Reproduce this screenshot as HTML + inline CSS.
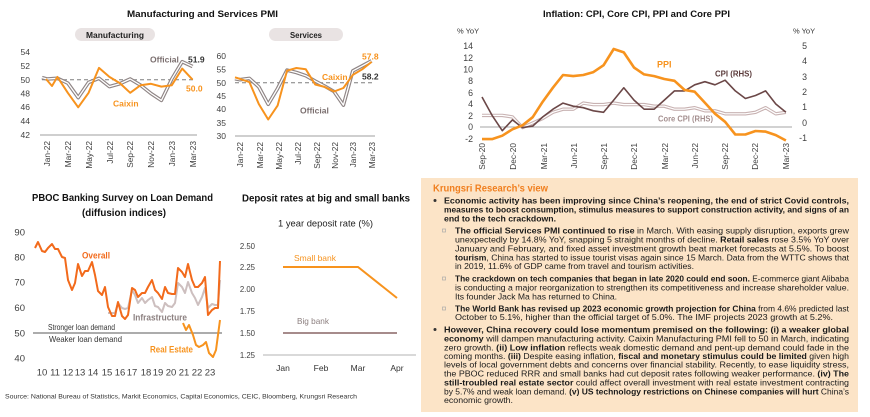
<!DOCTYPE html>
<html><head><meta charset="utf-8"><style>
html,body{margin:0;padding:0;background:#fff;}
svg{display:block;font-family:"Liberation Sans",Arial,sans-serif;}
</style></head><body>
<svg width="870" height="417" viewBox="0 0 870 417" xmlns="http://www.w3.org/2000/svg">
<rect width="870" height="417" fill="#fff"/>

<!-- ============ PMI ============ -->
<text x="127" y="17" font-size="9.5" font-weight="bold" fill="#111" textLength="151" lengthAdjust="spacingAndGlyphs">Manufacturing and Services PMI</text>

<!-- Manufacturing -->
<rect x="75" y="28" width="80" height="13" rx="6.5" fill="#e9e3e3"/>
<text x="86" y="38" font-size="8.5" font-weight="bold" fill="#222" textLength="58" lengthAdjust="spacingAndGlyphs">Manufacturing</text>
<g font-size="8.5" fill="#404040" text-anchor="end">
<text x="30" y="55">54</text><text x="30" y="69">52</text><text x="30" y="83">50</text><text x="30" y="96.5">48</text><text x="30" y="110">46</text><text x="30" y="124">44</text><text x="30" y="138">42</text>
</g>
<line x1="40" y1="135" x2="197" y2="135" stroke="#bfbfbf" stroke-width="1.5"/>
<line x1="42" y1="79.7" x2="193" y2="79.7" stroke="#7f7f7f" stroke-width="1" stroke-dasharray="4,3"/>
<polyline fill="none" stroke="#8f8585" stroke-width="3.6" stroke-linejoin="round" points="42,77.6 47,79 57.4,78.3 67.8,83.1 78.2,97.6 88.6,82.4 99,78.3 109.4,86.6 119.8,83.8 130.2,79 140.6,85.2 151,93.5 161.4,100.4 171.8,79 182.2,61.7 192.6,66.5"/>
<polyline fill="none" stroke="#fff" stroke-width="1.3" stroke-linejoin="round" points="42,77.6 47,79 57.4,78.3 67.8,83.1 78.2,97.6 88.6,82.4 99,78.3 109.4,86.6 119.8,83.8 130.2,79 140.6,85.2 151,93.5 161.4,100.4 171.8,79 182.2,61.7 192.6,66.5"/>
<polyline fill="none" stroke="#f7931e" stroke-width="2" stroke-linejoin="round" points="46,79 52,86 57.4,76.9 67.8,92.8 78.2,107.3 88.6,92.8 99,67.9 109.4,76.9 119.8,83.1 130.2,92.8 140.6,85.2 151,83.8 161.4,86.6 171.8,85.2 182.2,68.6 192.6,79.7"/>
<text x="150" y="62.5" font-size="8.5" font-weight="bold" fill="#7b6f6f">Official</text>
<text x="188" y="62.5" font-size="8.5" font-weight="bold" fill="#333">51.9</text>
<text x="113" y="106.5" font-size="8.5" font-weight="bold" fill="#f7931e">Caixin</text>
<text x="186" y="91.5" font-size="8.5" font-weight="bold" fill="#f7931e">50.0</text>
<g font-size="8.3" fill="#404040" text-anchor="end">
<text transform="translate(50,141) rotate(-90)">Jan-22</text>
<text transform="translate(71,141) rotate(-90)">Mar-22</text>
<text transform="translate(92,141) rotate(-90)">May-22</text>
<text transform="translate(113,141) rotate(-90)">Jul-22</text>
<text transform="translate(133,141) rotate(-90)">Sep-22</text>
<text transform="translate(154,141) rotate(-90)">Nov-22</text>
<text transform="translate(175,141) rotate(-90)">Jan-23</text>
<text transform="translate(196,141) rotate(-90)">Mar-23</text>
</g>

<!-- Services -->
<rect x="269" y="28" width="74" height="13" rx="6.5" fill="#e9e3e3"/>
<text x="290" y="38" font-size="8.5" font-weight="bold" fill="#222" textLength="32" lengthAdjust="spacingAndGlyphs">Services</text>
<g font-size="8.5" fill="#404040" text-anchor="end">
<text x="226" y="59">60</text><text x="226" y="72.5">55</text><text x="226" y="86">50</text><text x="226" y="99">45</text><text x="226" y="112">40</text><text x="226" y="126">35</text><text x="226" y="139">30</text>
</g>
<line x1="235" y1="136" x2="375" y2="136" stroke="#bfbfbf" stroke-width="1.5"/>
<line x1="235" y1="82.7" x2="372" y2="82.7" stroke="#7f7f7f" stroke-width="1" stroke-dasharray="4,3"/>
<polyline fill="none" stroke="#8f8585" stroke-width="3.6" stroke-linejoin="round" points="235,78.7 240,79.7 249.4,78.4 258.8,86.9 268.2,104.3 277.6,88.5 287,70.1 296.4,72.5 305.8,75.7 315.2,81.1 324.6,86.1 334,91.5 343.4,105.1 352.8,70.9 362.2,65.9 371.6,60.8"/>
<polyline fill="none" stroke="#fff" stroke-width="1.3" stroke-linejoin="round" points="235,78.7 240,79.7 249.4,78.4 258.8,86.9 268.2,104.3 277.6,88.5 287,70.1 296.4,72.5 305.8,75.7 315.2,81.1 324.6,86.1 334,91.5 343.4,105.1 352.8,70.9 362.2,65.9 371.6,60.8"/>
<polyline fill="none" stroke="#f7931e" stroke-width="2" stroke-linejoin="round" points="235,77.3 240,78.9 249.4,82.1 258.8,104 268.2,119.5 277.6,105.6 287,70.7 296.4,68 305.8,69.3 315.2,84.5 324.6,86.9 334,91.5 343.4,88 352.8,74.9 362.2,69.3 371.6,61.9"/>
<text x="362" y="59.5" font-size="8.5" font-weight="bold" fill="#f7931e">57.8</text>
<text x="322" y="80" font-size="8.5" font-weight="bold" fill="#f7931e">Caixin</text>
<text x="362" y="79.5" font-size="8.5" font-weight="bold" fill="#333">58.2</text>
<text x="300" y="113.5" font-size="8.5" font-weight="bold" fill="#7b6f6f">Official</text>
<g font-size="8.3" fill="#404040" text-anchor="end">
<text transform="translate(243,142) rotate(-90)">Jan-22</text>
<text transform="translate(263,142) rotate(-90)">Mar-22</text>
<text transform="translate(282,142) rotate(-90)">May-22</text>
<text transform="translate(301,142) rotate(-90)">Jul-22</text>
<text transform="translate(320,142) rotate(-90)">Sep-22</text>
<text transform="translate(338,142) rotate(-90)">Nov-22</text>
<text transform="translate(356,142) rotate(-90)">Jan-23</text>
<text transform="translate(375,142) rotate(-90)">Mar-23</text>
</g>

<!-- ============ Inflation ============ -->
<text x="543" y="17" font-size="9.5" font-weight="bold" fill="#111" textLength="187" lengthAdjust="spacingAndGlyphs">Inflation: CPI, Core CPI, PPI and Core PPI</text>
<text x="457" y="33.5" font-size="7.5" fill="#333">% YoY</text>
<text x="793" y="33.5" font-size="7.5" fill="#333">% YoY</text>
<g font-size="8.8" fill="#404040" text-anchor="end">
<text x="473" y="49">14</text><text x="473" y="61">12</text><text x="473" y="72.5">10</text><text x="473" y="84">8</text><text x="473" y="96">6</text><text x="473" y="107">4</text><text x="473" y="119">2</text><text x="473" y="130">0</text><text x="473" y="142">-2</text>
<text x="807" y="49">5</text><text x="807" y="64">4</text><text x="807" y="80">3</text><text x="807" y="95">2</text><text x="807" y="110">1</text><text x="807" y="126">0</text><text x="807" y="141">-1</text>
</g>
<line x1="480" y1="127" x2="792" y2="127" stroke="#a6a6a6" stroke-width="1"/>
<polyline fill="none" stroke="#c8b2b2" stroke-width="3.4" stroke-linejoin="round" points="482,115.4 492.1,115.4 502.3,115.4 512.4,116.9 522.5,127.6 532.7,123 542.8,118.4 552.9,112.3 563,109.2 573.2,109.2 583.3,103.1 593.4,104.6 603.6,104.6 613.7,103.1 623.8,104.6 634,104.6 644.1,104.6 654.2,106.2 664.3,106.2 674.5,109.2 684.6,109.2 694.7,107.7 704.9,110.8 715,110.8 725.1,113.8 735.3,113.8 745.4,113.8 755.5,112.3 765.6,107.7 775.8,113.8 785.9,112.3"/>
<polyline fill="none" stroke="#fff" stroke-width="1.2" stroke-linejoin="round" points="482,115.4 492.1,115.4 502.3,115.4 512.4,116.9 522.5,127.6 532.7,123 542.8,118.4 552.9,112.3 563,109.2 573.2,109.2 583.3,103.1 593.4,104.6 603.6,104.6 613.7,103.1 623.8,104.6 634,104.6 644.1,104.6 654.2,106.2 664.3,106.2 674.5,109.2 684.6,109.2 694.7,107.7 704.9,110.8 715,110.8 725.1,113.8 735.3,113.8 745.4,113.8 755.5,112.3 765.6,107.7 775.8,113.8 785.9,112.3"/>
<polyline fill="none" stroke="#6b4747" stroke-width="1.6" stroke-linejoin="round" points="482,97 492.1,115.4 502.3,130.7 512.4,119.9 522.5,127.6 532.7,126.1 542.8,116.9 552.9,109.2 563,103.1 573.2,106.2 583.3,107.7 593.4,110.8 603.6,112.3 613.7,100.1 623.8,87.8 634,100.1 644.1,109.2 654.2,109.2 664.3,100.1 674.5,90.9 684.6,90.9 694.7,84.8 704.9,81.7 715,84.8 725.1,80.2 735.3,90.9 745.4,98.5 755.5,95.5 765.6,90.9 775.8,104 785.9,112.3"/>
<polyline fill="none" stroke="#f7931e" stroke-width="2.6" stroke-linejoin="round" points="482,139.1 492.1,139.1 502.3,135.7 512.4,129.3 522.5,125.3 532.7,117.2 542.8,101.6 552.9,87.7 563,75 573.2,76.1 583.3,75 593.4,72.1 603.6,65.2 613.7,49 623.8,52.4 634,67.5 644.1,74.4 654.2,76.1 664.3,79 674.5,80.8 684.6,90 694.7,91.7 704.9,102.7 715,113.7 725.1,121.8 735.3,134.5 745.4,134.5 755.5,131 765.6,131.6 775.8,135.1 785.9,140.5"/>
<text x="657" y="67.5" font-size="9" font-weight="bold" fill="#f7931e">PPI</text>
<text x="715" y="76.5" font-size="8.5" font-weight="bold" fill="#5c3c3c" textLength="37" lengthAdjust="spacingAndGlyphs">CPI (RHS)</text>
<text x="658" y="121.5" font-size="8.5" font-weight="bold" fill="#a48f8f" textLength="55" lengthAdjust="spacingAndGlyphs">Core CPI (RHS)</text>
<g font-size="8.3" fill="#404040" text-anchor="end">
<text transform="translate(485,143) rotate(-90)">Sep-20</text>
<text transform="translate(516,143) rotate(-90)">Dec-20</text>
<text transform="translate(547,143) rotate(-90)">Mar-21</text>
<text transform="translate(577,143) rotate(-90)">Jun-21</text>
<text transform="translate(607,143) rotate(-90)">Sep-21</text>
<text transform="translate(637,143) rotate(-90)">Dec-21</text>
<text transform="translate(668,143) rotate(-90)">Mar-22</text>
<text transform="translate(698,143) rotate(-90)">Jun-22</text>
<text transform="translate(728,143) rotate(-90)">Sep-22</text>
<text transform="translate(758,143) rotate(-90)">Dec-22</text>
<text transform="translate(789,143) rotate(-90)">Mar-23</text>
</g>

<!-- ============ PBOC ============ -->
<text x="32" y="201" font-size="10.5" font-weight="bold" fill="#111" textLength="181" lengthAdjust="spacingAndGlyphs">PBOC Banking Survey on Loan Demand</text>
<text x="82" y="216" font-size="10.5" font-weight="bold" fill="#111" textLength="84" lengthAdjust="spacingAndGlyphs">(diffusion indices)</text>
<g font-size="9.5" fill="#404040" text-anchor="end">
<text x="25" y="235.5">90</text><text x="25" y="260.5">80</text><text x="25" y="285.5">70</text><text x="25" y="311">60</text><text x="25" y="336.5">50</text><text x="25" y="361.5">40</text>
</g>
<g font-size="9.5" fill="#404040" text-anchor="middle">
<text x="42" y="375.5">10</text><text x="55" y="375.5">11</text><text x="68" y="375.5">12</text><text x="80" y="375.5">13</text><text x="93" y="375.5">14</text><text x="107" y="375.5">15</text><text x="120" y="375.5">16</text><text x="132" y="375.5">17</text><text x="146" y="375.5">18</text><text x="158" y="375.5">19</text><text x="171" y="375.5">20</text><text x="184" y="375.5">21</text><text x="197" y="375.5">22</text><text x="210" y="375.5">23</text>
</g>
<line x1="33" y1="333" x2="222" y2="333" stroke="#595959" stroke-width="1"/>
<polyline fill="none" stroke="#cdbfbf" stroke-width="2" stroke-linejoin="round" points="108,313 115,313 118,303 122,308 125,309 128,308 132,290 135,295 138,303 142,298 145,303 148,300 152,297 155,306 158,307 162,312 165,303 168,306 172,307 175,303 178,283 182,287 185,293 188,282 192,293 195,298 198,305 202,297 205,288 208,308 212,304 215,305 218,305 220,280"/>
<polyline fill="none" stroke="#f26a1b" stroke-width="2" stroke-linejoin="round" points="35,248 38,242 42,251 45,252 48,248 52,244 55,249 58,249 62,257 65,258 68,280 72,290 75,283 78,264 82,276 85,271 88,271 92,262 95,275 98,291 102,295 105,287 108,307 112,316 115,316 118,302 122,316 125,319 128,315 132,288 135,290 138,297 142,293 145,293 148,287 152,280 155,290 158,293 162,299 165,287 168,293 172,294 175,294 178,268 182,272 185,277 188,264 192,280 195,287 198,287 202,283 205,277 208,315 212,310 215,308 218,308 220,261"/>
<polyline fill="none" stroke="#f7931e" stroke-width="2" stroke-linejoin="round" points="183,323 186,330 189,325 193,335 196,345 199,347 203,345 206,342 209,353 213,357 216,350 220,320"/>
<text x="82" y="258.5" font-size="9.5" font-weight="bold" fill="#f26a1b" textLength="28" lengthAdjust="spacingAndGlyphs">Overall</text>
<text x="133" y="320.5" font-size="9.5" font-weight="bold" fill="#8c8080" textLength="54" lengthAdjust="spacingAndGlyphs">Infrastructure</text>
<text x="150" y="352.5" font-size="9.5" font-weight="bold" fill="#f7931e" textLength="43" lengthAdjust="spacingAndGlyphs">Real Estate</text>
<text x="48" y="330" font-size="8.5" fill="#333" textLength="67" lengthAdjust="spacingAndGlyphs">Stronger loan demand</text>
<text x="49" y="342" font-size="8.5" fill="#333" textLength="73" lengthAdjust="spacingAndGlyphs">Weaker loan demand</text>

<text x="5" y="398.5" font-size="6.8" fill="#333" textLength="352" lengthAdjust="spacingAndGlyphs">Source: National Bureau of Statistics, Markit Economics, Capital Economics, CEIC, Bloomberg, Krungsri Research</text>

<!-- ============ Deposit ============ -->
<text x="242" y="201.5" font-size="9.8" font-weight="bold" fill="#111" textLength="168" lengthAdjust="spacingAndGlyphs">Deposit rates at big and small banks</text>
<text x="278" y="226.5" font-size="9" fill="#222" textLength="95" lengthAdjust="spacingAndGlyphs">1 year deposit rate (%)</text>
<g font-size="7.8" fill="#404040" text-anchor="end">
<text x="255" y="249">2.50</text><text x="255" y="270">2.25</text><text x="255" y="292">2.00</text><text x="255" y="314">1.75</text><text x="255" y="336">1.50</text><text x="255" y="358">1.25</text>
</g>
<line x1="263" y1="355" x2="416" y2="355" stroke="#d9d9d9" stroke-width="2"/>
<polyline fill="none" stroke="#f7931e" stroke-width="2" points="283,267 358,267 397,298"/>
<line x1="283" y1="333" x2="397" y2="333" stroke="#a68b8b" stroke-width="2"/>
<text x="294" y="261" font-size="8.3" fill="#f7931e" textLength="42" lengthAdjust="spacingAndGlyphs">Small bank</text>
<text x="297" y="324" font-size="8.3" fill="#8c7f7f" textLength="32" lengthAdjust="spacingAndGlyphs">Big bank</text>
<g font-size="8.5" fill="#333" text-anchor="middle">
<text x="283" y="371">Jan</text><text x="321" y="371">Feb</text><text x="358" y="371">Mar</text><text x="397" y="371">Apr</text>
</g>

<!-- ============ Text box ============ -->
<rect x="421" y="178" width="437" height="234" fill="#fce4c7"/>
<text x="433" y="191.5" font-size="10.5" font-weight="bold" fill="#f07f1f" textLength="115" lengthAdjust="spacingAndGlyphs">Krungsri Research’s view</text>

<g font-size="8.2" fill="#1a1a1a">
<circle cx="435" cy="200.5" r="1.5" fill="#333"/>
<text x="444" y="203.7" font-weight="bold" textLength="405" lengthAdjust="spacingAndGlyphs">Economic activity has been improving since China’s reopening, the end of strict Covid controls,</text>
<text x="444" y="212.7" font-weight="bold" textLength="405" lengthAdjust="spacingAndGlyphs">measures to boost consumption, stimulus measures to support construction activity, and signs of an</text>
<text x="444" y="221.7" font-weight="bold" textLength="112" lengthAdjust="spacingAndGlyphs">end to the tech crackdown.</text>

<rect x="442.5" y="229" width="3" height="3" fill="none" stroke="#aaa" stroke-width="0.7"/>
<text x="455" y="233.7" textLength="394" lengthAdjust="spacingAndGlyphs"><tspan font-weight="bold">The official Services PMI continued to rise</tspan> in March. With easing supply disruption, exports grew</text>
<text x="455" y="242.7" textLength="394" lengthAdjust="spacingAndGlyphs">unexpectedly by 14.8% YoY, snapping 5 straight months of decline. <tspan font-weight="bold">Retail sales</tspan> rose 3.5% YoY over</text>
<text x="455" y="251.7" textLength="394" lengthAdjust="spacingAndGlyphs">January and February, and fixed asset investment growth beat market forecasts at 5.5%. To boost</text>
<text x="455" y="260.7" textLength="394" lengthAdjust="spacingAndGlyphs"><tspan font-weight="bold">tourism</tspan>, China has started to issue tourist visas again since 15 March. Data from the WTTC shows that</text>
<text x="455" y="269.2" textLength="239" lengthAdjust="spacingAndGlyphs">in 2019, 11.6% of GDP came from travel and tourism activities.</text>

<rect x="442.5" y="277" width="3" height="3" fill="none" stroke="#aaa" stroke-width="0.7"/>
<text x="455" y="281.7" textLength="394" lengthAdjust="spacingAndGlyphs"><tspan font-weight="bold">The crackdown on tech companies that began in late 2020 could end soon.</tspan> E-commerce giant Alibaba</text>
<text x="455" y="290.7" textLength="394" lengthAdjust="spacingAndGlyphs">is conducting a major reorganization to strengthen its competitiveness and increase shareholder value.</text>
<text x="455" y="299.7" textLength="162" lengthAdjust="spacingAndGlyphs">Its founder Jack Ma has returned to China.</text>

<rect x="442.5" y="307" width="3" height="3" fill="none" stroke="#aaa" stroke-width="0.7"/>
<text x="455" y="311.7" textLength="394" lengthAdjust="spacingAndGlyphs"><tspan font-weight="bold">The World Bank has revised up 2023 economic growth projection for China</tspan> from 4.6% predicted last</text>
<text x="455" y="320.2" textLength="378" lengthAdjust="spacingAndGlyphs">October to 5.1%, higher than the official target of 5.0%. The IMF projects 2023 growth at 5.2%.</text>

<circle cx="435" cy="329.5" r="1.5" fill="#333"/>
<text x="444" y="332.7" font-weight="bold" textLength="405" lengthAdjust="spacingAndGlyphs">However, China recovery could lose momentum premised on the following: (i) a weaker global</text>
<text x="444" y="341.7" textLength="405" lengthAdjust="spacingAndGlyphs"><tspan font-weight="bold">economy</tspan> will dampen manufacturing activity. Caixin Manufacturing PMI fell to 50 in March, indicating</text>
<text x="444" y="350.7" textLength="405" lengthAdjust="spacingAndGlyphs">zero growth. <tspan font-weight="bold">(ii) Low inflation</tspan> reflects weak domestic demand and pent-up demand could fade in the</text>
<text x="444" y="359.2" textLength="405" lengthAdjust="spacingAndGlyphs">coming months. <tspan font-weight="bold">(iii)</tspan> Despite easing inflation, <tspan font-weight="bold">fiscal and monetary stimulus could be limited</tspan> given high</text>
<text x="444" y="367.7" textLength="405" lengthAdjust="spacingAndGlyphs">levels of local government debts and concerns over financial stability. Recently, to ease liquidity stress,</text>
<text x="444" y="376.7" textLength="405" lengthAdjust="spacingAndGlyphs">the PBOC reduced RRR and small banks had cut deposit rates following weaker performance. <tspan font-weight="bold">(iv) The</tspan></text>
<text x="444" y="385.7" textLength="405" lengthAdjust="spacingAndGlyphs"><tspan font-weight="bold">still-troubled real estate sector</tspan> could affect overall investment with real estate investment contracting</text>
<text x="444" y="394.7" textLength="405" lengthAdjust="spacingAndGlyphs">by 5.7% and weak loan demand. <tspan font-weight="bold">(v) US technology restrictions on Chinese companies will hurt</tspan> China’s</text>
<text x="444" y="403.2" textLength="69" lengthAdjust="spacingAndGlyphs">economic growth.</text>
</g>
</svg>
</body></html>
